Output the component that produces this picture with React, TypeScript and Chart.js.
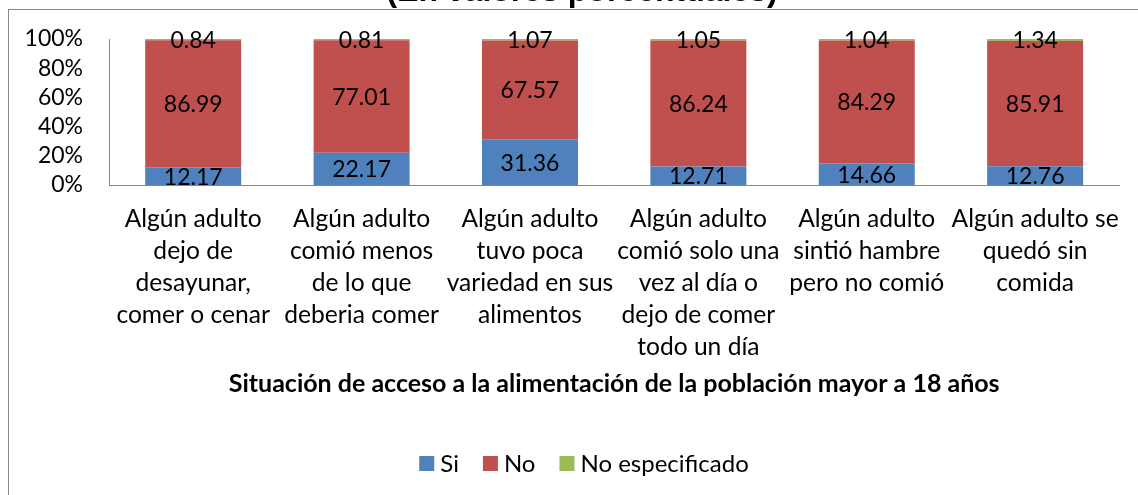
import React, { useEffect, useRef } from "react";
import { Chart, registerables } from "chart.js";

Chart.register(...registerables);

const categories: string[][] = [
  ["Algún adulto", "dejo de", "desayunar,", "comer o cenar"],
  ["Algún adulto", "comió menos", "de lo que", "deberia comer"],
  ["Algún adulto", "tuvo poca", "variedad en sus", "alimentos"],
  ["Algún adulto", "comió solo una", "vez al día o", "dejo de comer", "todo un día"],
  ["Algún adulto", "sintió hambre", "pero no comió"],
  ["Algún adulto se", "quedó sin", "comida"],
];

const siValues = [12.17, 22.17, 31.36, 12.71, 14.66, 12.76];
const noValues = [86.99, 77.01, 67.57, 86.24, 84.29, 85.91];
const noEspValues = [0.84, 0.81, 1.07, 1.05, 1.04, 1.34];

const yTicks = [0, 20, 40, 60, 80, 100];

const titleText = "(En valores porcentuales)";
const axisTitleText = "Situación de acceso a la alimentación de la población mayor a 18 años";

const FONT = "Lato, 'Noto Sans', sans-serif";
const OFFSET = 30;
const W = 1138;
const H = 495 + OFFSET;
const X_AXIS_H = 214;

const frameAndTitle = {
  id: "frameAndTitle",
  beforeDraw(chart: any) {
    const ctx = chart.ctx;
    ctx.save();
    ctx.fillStyle = "#ffffff";
    ctx.fillRect(0, 0, chart.width, chart.height);
    ctx.strokeStyle = "#868686";
    ctx.lineWidth = 1;
    ctx.strokeRect(8.5, 9.5 + OFFSET, 2000, 2000);
    ctx.fillStyle = "#000000";
    ctx.font = "bold 32px 'Liberation Sans', Arial, sans-serif";
    ctx.textAlign = "center";
    ctx.textBaseline = "alphabetic";
    ctx.fillText(titleText, 582, OFFSET + 1);
    ctx.restore();
  },
};

const valueLabels = {
  id: "valueLabels",
  afterDatasetsDraw(chart: any) {
    const ctx = chart.ctx;
    ctx.save();
    ctx.fillStyle = "#000000";
    ctx.font = `23px ${FONT}`;
    ctx.textAlign = "center";
    ctx.textBaseline = "middle";
    chart.data.datasets.forEach((ds: any, di: number) => {
      const meta = chart.getDatasetMeta(di);
      meta.data.forEach((el: any, i: number) => {
        const { x, y, base } = el.getProps(["x", "y", "base"], true);
        const v = ds.data[i] as number;
        ctx.fillText(v.toFixed(2), x, (y + base) / 2 + 1);
      });
    });
    ctx.restore();
  },
};

const customLegend = {
  id: "customLegend",
  afterDraw(chart: any) {
    const ctx = chart.ctx;
    ctx.save();
    ctx.font = `24px ${FONT}`;
    ctx.textBaseline = "middle";
    ctx.textAlign = "left";
    const box = 15;
    const gapText = 6;
    const gapItem = 24;
    const items = chart.data.datasets.map((ds: any) => ({
      label: ds.label as string,
      color: ds.backgroundColor as string,
      w: ctx.measureText(ds.label).width,
    }));
    const total =
      items.reduce((s: number, it: any) => s + box + gapText + it.w, 0) +
      gapItem * (items.length - 1);
    let x = 584 - total / 2;
    const cy = 463.5 + OFFSET;
    items.forEach((it: any) => {
      ctx.fillStyle = it.color;
      ctx.fillRect(x, cy - box / 2, box, box);
      x += box + gapText;
      ctx.fillStyle = "#000000";
      ctx.fillText(it.label, x, cy + 1);
      x += it.w + gapItem;
    });
    ctx.restore();
  },
};

export default function App() {
  const ref = useRef<HTMLCanvasElement>(null);

  useEffect(() => {
    if (!ref.current) return;
    const chart = new Chart(ref.current, {
      type: "bar",
      data: {
        labels: categories,
        datasets: [
          { label: "Si", data: siValues, backgroundColor: "#4F81BD", borderWidth: 0 },
          { label: "No", data: noValues, backgroundColor: "#C0504D", borderWidth: 0 },
          { label: "No especificado", data: noEspValues, backgroundColor: "#9BBB59", borderWidth: 0 },
        ],
      },
      options: {
        responsive: false,
        animation: false,
        devicePixelRatio: 1,
        layout: { padding: { top: 69, left: 0, right: 16, bottom: H - 215 - X_AXIS_H } },
        datasets: { bar: { barPercentage: 0.57, categoryPercentage: 1 } },
        plugins: {
          legend: { display: false },
          title: { display: false },
          tooltip: { enabled: false },
        },
        scales: {
          x: {
            stacked: true,
            grid: { display: false, drawTicks: false },
            border: { display: true, color: "#868686", width: 1 },
            ticks: {
              color: "#000000",
              font: { family: FONT, size: 24.6, lineHeight: 1.3 },
              padding: 18,
              autoSkip: false,
              maxRotation: 0,
              minRotation: 0,
            },
            title: {
              display: true,
              text: axisTitleText,
              color: "#000000",
              font: { family: FONT, size: 25, weight: "bold", lineHeight: 1.2 },
              padding: 0,
            },
            afterFit(scale: any) {
              scale.height = X_AXIS_H;
            },
          },
          y: {
            stacked: true,
            min: 0,
            max: 100,
            afterBuildTicks(scale: any) {
              scale.ticks = yTicks.map((v) => ({ value: v }));
            },
            grid: { display: false, drawTicks: false },
            border: { display: true, color: "#868686", width: 1 },
            ticks: {
              color: "#000000",
              font: { family: FONT, size: 23 },
              padding: 26,
              autoSkip: false,
              callback: (v: any) => `${v}%`,
            },
            afterFit(scale: any) {
              scale.width = 109;
            },
          },
        },
      },
      plugins: [frameAndTitle, valueLabels, customLegend],
    });
    return () => chart.destroy();
  }, []);

  return (
    <div style={{ position: "absolute", left: 0, top: -OFFSET, width: W, height: H }}>
      <canvas ref={ref} width={W} height={H} style={{ display: "block", width: W, height: H }} />
    </div>
  );
}
